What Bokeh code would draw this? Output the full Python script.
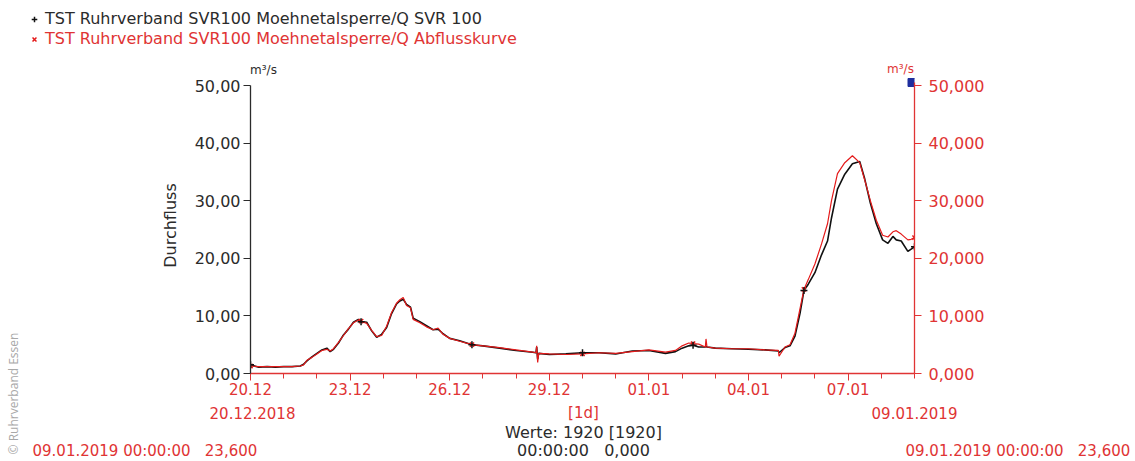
import math
from bokeh.plotting import figure
from bokeh.layouts import row, column
from bokeh.models import Range1d, LinearAxis, FixedTicker, Label, Legend, LegendItem
from bokeh.embed import file_html
from bokeh.resources import INLINE

# ---------------- data ----------------
# days after 20.12.2018 00:00
days = [0.0, 0.25, 0.5, 0.75, 1.0, 1.25, 1.5, 1.6, 1.7, 1.85,
        2.0, 2.15, 2.3, 2.4, 2.5, 2.65, 2.8, 2.95, 3.1, 3.25,
        3.33, 3.5, 3.65, 3.8, 3.95, 4.1, 4.25, 4.4, 4.5, 4.6,
        4.7, 4.82, 4.9, 5.1, 5.3, 5.5, 5.65, 5.8, 6.0, 6.3,
        6.67, 7.0, 7.5, 8.0, 8.5, 8.6, 8.62, 8.65, 8.68, 9.0,
        9.5, 10.0, 10.5, 11.0, 11.5, 12.0, 12.5, 12.8, 13.0, 13.2,
        13.33, 13.5, 13.7, 13.72, 13.75, 14.0, 14.5, 15.0, 15.5, 15.9,
        15.92, 16.1, 16.25, 16.4, 16.55, 16.67, 16.8, 17.0, 17.2, 17.38,
        17.5, 17.68, 17.9, 18.13, 18.35, 18.5, 18.67, 18.85, 19.04, 19.2,
        19.35, 19.45, 19.6, 19.8, 19.9, 20.0]

# Q Abflusskurve (red), m³/s
q_abfluss = [1.3, 1.2, 1.2, 1.2, 1.2, 1.2, 1.3, 1.5, 2.3, 2.8,
             3.4, 4.0, 4.2, 3.9, 4.3, 5.4, 6.6, 7.8, 8.8, 9.3,
             9.1, 8.7, 7.5, 6.4, 6.6, 8.2, 10.6, 12.2, 12.8, 13.2,
             11.8, 11.4, 9.4, 8.8, 8.1, 7.6, 7.9, 6.8, 6.1, 5.6,
             5.0, 4.8, 4.5, 4.1, 3.7, 3.6, 4.8, 1.9, 3.5, 3.4,
             3.3, 3.4, 3.6, 3.5, 3.8, 4.1, 3.7, 4.0, 4.8, 5.3,
             5.2, 5.1, 4.6, 6.0, 4.6, 4.4, 4.3, 4.3, 4.1, 4.0,
             3.0, 4.6, 5.0, 7.0, 11.2, 14.6, 16.3, 19.0, 22.5, 26.0,
             30.0, 34.7, 36.6, 37.8, 36.6, 33.6, 30.0, 26.6, 24.0, 23.7,
             24.6, 24.8, 24.2, 23.2, 23.3, 23.6]

# Q SVR 100 (black), m³/s
q_svr100 = [1.5, 1.1, 1.2, 1.1, 1.2, 1.2, 1.3, 1.6, 2.2, 2.9,
            3.5, 4.1, 4.4, 3.8, 4.2, 5.3, 6.7, 7.7, 8.9, 9.4,
            9.0, 8.9, 7.4, 6.3, 6.8, 8.0, 10.4, 12.1, 12.6, 12.9,
            12.0, 11.5, 9.6, 9.0, 8.3, 7.6, 7.7, 6.9, 6.1, 5.7,
            5.0, 4.8, 4.4, 4.0, 3.7, 3.6, 4.6, 2.5, 3.5, 3.3,
            3.4, 3.6, 3.6, 3.4, 3.9, 4.0, 3.5, 3.8, 4.4, 4.8,
            4.9, 4.6, 4.6, 4.7, 4.6, 4.4, 4.3, 4.2, 4.1, 3.9,
            3.6, 4.5, 4.8, 6.5, 10.4, 14.4, 15.5, 17.5, 20.6, 23.0,
            27.0, 32.0, 34.6, 36.4, 36.8, 33.8, 29.6, 26.0, 23.2, 22.6,
            23.8, 23.2, 23.0, 21.2, 21.6, 22.0]

marker_days = [0.0, 3.33, 6.67, 10.0, 13.33, 16.67, 20.0]

x_ticks = [0, 3, 6, 9, 12, 15, 18]
x_tick_labels = ["20.12", "23.12", "26.12", "29.12", "01.01", "04.01", "07.01"]
y_ticks = [0, 10, 20, 30, 40, 50]
y_tick_labels_left = ["0,00", "10,00", "20,00", "30,00", "40,00", "50,00"]
y_tick_labels_right = ["0,000", "10,000", "20,000", "30,000", "40,000", "50,000"]

legend_black = "TST Ruhrverband SVR100 Moehnetalsperre/Q SVR 100"
legend_red = "TST Ruhrverband SVR100 Moehnetalsperre/Q Abflusskurve"
range_start = "20.12.2018"
range_step = "[1d]"
range_end = "09.01.2019"
values_count = "Werte: 1920 [1920]"
cursor_center = "00:00:00\u00a0\u00a0\u00a00,000"
cursor_side = "09.01.2019 00:00:00\u00a0\u00a0\u00a023,600"
unit = "m³/s"
copyright_text = "© Ruhrverband Essen"

# ---------------- styling ----------------
RED = "#e03434"
LINE_RED = "#e41a1a"
DARK = "#2b2b2b"
FONT = "DejaVu Sans"

LEFT_W = 25          # strip holding the vertical copyright
MAIN_W = 1135 - LEFT_W
TOP_H = 77           # page y 0..77
MAIN_H = 324         # page y 77..401
BOT_H = 461 - TOP_H - MAIN_H


def blank(width, height, x0, x1, y0, y1):
    f = figure(width=width, height=height, output_backend="svg", toolbar_location=None,
               x_range=Range1d(x0, x1), y_range=Range1d(y1, y0),
               x_axis_type=None, y_axis_type=None, min_border=0)
    try:
        f.frame_align = False
    except AttributeError:
        pass
    f.title.visible = False
    f.outline_line_color = None
    f.xgrid.visible = False
    f.ygrid.visible = False
    return f


def text(f, s, px, py, color, size="16px", align="center", font=FONT, angle=0.0):
    f.add_layout(Label(x=px, y=py, text=s, text_color=color, text_font=font,
                       text_font_size=size, text_align=align,
                       text_baseline="middle", angle=angle))


# ---- top strip: legend and units (page pixel coordinates) ----
top = blank(MAIN_W, TOP_H, LEFT_W, 1135, 0, TOP_H)
# legend key renderers (their single point lies outside the strip's view)
lb = top.scatter([-1000], [-1000], marker="cross", size=6, line_color="#111111", line_width=1.5)
lr = top.scatter([-1000], [-1000], marker="x", size=6, line_color=LINE_RED, line_width=1.5)


def make_legend(label, renderer, color, vy):
    lg = Legend(items=[LegendItem(label=label, renderers=[renderer])],
                location=(2, vy), orientation="vertical",
                glyph_width=14, glyph_height=14, label_standoff=4,
                padding=0, margin=0, spacing=0, label_height=16,
                border_line_color=None, background_fill_alpha=0,
                label_text_font=FONT, label_text_font_size="16px",
                label_text_color=color)
    top.add_layout(lg, "center")


make_legend(legend_black, lb, DARK, 49)
make_legend(legend_red, lr, RED, 29)
text(top, unit, 263, 69, DARK, size="12px")
text(top, unit, 900, 68, RED, size="12px")

# ---- main chart: frame at page x 250..914, y 77..373 ----
def X(px):
    return (px - 250) / 33.2

def Y(py):
    return (373 - py) / 5.76

p = figure(width=MAIN_W, height=MAIN_H, output_backend="svg", toolbar_location=None,
           x_range=Range1d(0, 20), y_range=Range1d(0, Y(77)),
           min_border_left=250 - LEFT_W, min_border_right=1135 - 914,
           min_border_top=0, min_border_bottom=MAIN_H - 296,
           x_axis_type=None, y_axis_type=None)
try:
    p.frame_align = False
except AttributeError:
    pass
p.title.visible = False
p.outline_line_color = None
p.xgrid.visible = False
p.ygrid.visible = False
p.extra_y_ranges = {"right": Range1d(0, Y(77))}

xaxis = LinearAxis(ticker=FixedTicker(ticks=x_ticks, minor_ticks=list(range(0, 21))),
                   major_label_overrides={t: l for t, l in zip(x_ticks, x_tick_labels)})
xaxis.axis_line_color = RED
xaxis.axis_line_width = 1.3
xaxis.major_tick_line_color = RED
xaxis.minor_tick_line_color = RED
xaxis.major_tick_in = 0
xaxis.major_tick_out = 7
xaxis.minor_tick_in = 0
xaxis.minor_tick_out = 5
xaxis.major_label_text_color = RED
xaxis.major_label_text_font = FONT
xaxis.major_label_text_font_size = "15px"
xaxis.major_label_standoff = 2
p.add_layout(xaxis, "below")

yleft = LinearAxis(ticker=FixedTicker(ticks=y_ticks), bounds=(0, 50),
                   major_label_overrides={t: l for t, l in zip(y_ticks, y_tick_labels_left)},
                   axis_label="Durchfluss")
yleft.axis_line_color = DARK
yleft.axis_line_width = 1.3
yleft.major_tick_line_color = DARK
yleft.major_tick_in = 0
yleft.major_tick_out = 7
yleft.minor_tick_line_color = None
yleft.major_label_text_color = DARK
yleft.major_label_text_font = FONT
yleft.major_label_text_font_size = "16px"
yleft.major_label_standoff = 3
yleft.axis_label_text_font = FONT
yleft.axis_label_text_font_size = "16px"
yleft.axis_label_text_font_style = "normal"
yleft.axis_label_text_color = DARK
yleft.axis_label_standoff = 12
p.add_layout(yleft, "left")

yright = LinearAxis(y_range_name="right", ticker=FixedTicker(ticks=y_ticks), bounds=(0, 50.6),
                    major_label_overrides={t: l for t, l in zip(y_ticks, y_tick_labels_right)})
yright.axis_line_color = RED
yright.axis_line_width = 1.3
yright.major_tick_line_color = RED
yright.major_tick_in = 0
yright.major_tick_out = 7
yright.minor_tick_line_color = None
yright.major_label_text_color = RED
yright.major_label_text_font = FONT
yright.major_label_text_font_size = "16px"
yright.major_label_standoff = 7
p.add_layout(yright, "right")

p.line(days, q_svr100, line_color="#111111", line_width=1.6)
p.line(days, q_abfluss, line_color=LINE_RED, line_width=1.2)

idx = [days.index(d) for d in marker_days]
p.scatter([days[i] for i in idx], [q_abfluss[i] for i in idx],
          marker="x", size=6, line_color=LINE_RED, line_width=1.5)
p.scatter([days[i] for i in idx], [q_svr100[i] for i in idx],
          marker="cross", size=7, line_color="#111111", line_width=1.5)

# current-value indicator at the top of the right axis
p.scatter([X(911.5)], [Y(82)], marker="square", size=8,
          fill_color="#1f2e9e", line_color="#1f2e9e")

# ---- bottom strip: range and cursor read-outs ----
bot = blank(MAIN_W, BOT_H, LEFT_W, 1135, TOP_H + MAIN_H, 461)
text(bot, range_start, 252, 412, RED, size="15px")
text(bot, range_step, 583, 412, RED, size="15px")
text(bot, range_end, 914, 412, RED, size="15px")
text(bot, values_count, 583, 432, DARK)
text(bot, cursor_center, 583, 450, DARK)
text(bot, cursor_side, 32, 450, RED, size="15px", align="left")
text(bot, cursor_side, 905, 450, RED, size="15px", align="left")

# ---- left strip: copyright ----
left = blank(LEFT_W, 461, 0, LEFT_W, 0, 461)
text(left, copyright_text, 13, 393, "#a8a8a8", size="12px", font="Open Sans",
     angle=math.pi / 2)

layout = row(left, column(top, p, bot))
open("out.html", "w").write(file_html(layout, INLINE))
